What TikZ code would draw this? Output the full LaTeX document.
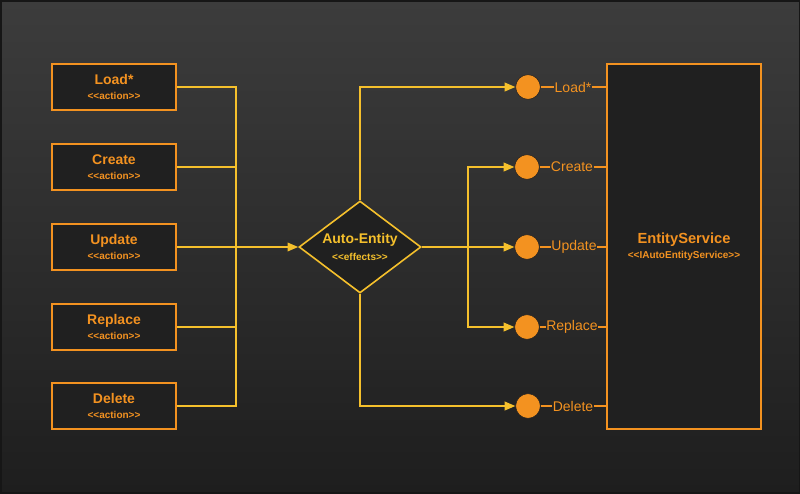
\documentclass[tikz,border=0pt]{standalone}
\usepackage{fontspec}
\setmainfont{Liberation Sans}
\usetikzlibrary{shapes.geometric,arrows.meta}

\definecolor{bgtop}{HTML}{3C3C3C}
\definecolor{bgbot}{HTML}{1E1E1E}
\definecolor{frame}{HTML}{161616}
\definecolor{boxfill}{HTML}{202020}
\definecolor{orange}{HTML}{F39220}
\definecolor{gold}{HTML}{F5C02C}

\newcommand{\stereo}[1]{<\kern0pt<#1>\kern0pt>}

\begin{document}
\begin{tikzpicture}[x=0.75pt,y=-0.75pt,
	action/.style={rectangle,draw=orange,fill=boxfill,line width=1.3pt,minimum width=93pt,minimum height=34.5pt,align=center,text=orange,inner sep=1pt,font=\bfseries\fontsize{10.5}{12}\selectfont},
	effect/.style={diamond,draw=gold,fill=boxfill,line width=1.2pt,aspect=1.33,minimum width=91.5pt,minimum height=69pt,inner sep=0pt,align=center,text=gold,font=\bfseries\fontsize{10.5}{12}\selectfont},
	service/.style={rectangle,draw=orange,fill=boxfill,line width=1.3pt,minimum width=115.5pt,minimum height=273.75pt,align=center,text=orange,font=\bfseries\fontsize{11}{12}\selectfont},
	port/.style={circle,fill=orange,draw=boxfill,line width=0.4pt,minimum size=18.5pt,inner sep=0pt},
	portlabel/.style={text=orange,inner sep=0.3pt,font=\fontsize{10.5}{12}\selectfont},
	wire/.style={draw=gold,line width=1.1pt},
	pwire/.style={draw=orange,line width=1.1pt},
	arrow/.style={-{Triangle[length=8pt,width=6.5pt]}}]

	% background
	\useasboundingbox (0,0) rectangle (800,493);
	\shade[top color=bgtop,bottom color=bgbot] (0,0) rectangle (800,493);
	\draw[frame,line width=1.5pt] (0.5,0.5) rectangle (799.5,492.5);

	% actions
	\node[action] (load) at (114,87) {Load*\\[-1pt]{\fontsize{7.5}{8}\selectfont\stereo{action}}};
	\node[action] (create) at (114,167) {Create\\[-1pt]{\fontsize{7.5}{8}\selectfont\stereo{action}}};
	\node[action] (update) at (114,247) {Update\\[-1pt]{\fontsize{7.5}{8}\selectfont\stereo{action}}};
	\node[action] (replace) at (114,327) {Replace\\[-1pt]{\fontsize{7.5}{8}\selectfont\stereo{action}}};
	\node[action] (delete) at (114,406) {Delete\\[-1pt]{\fontsize{7.5}{8}\selectfont\stereo{action}}};

	% effects
	\node[effect] (fx) at (360,247) {Auto-Entity\\[1pt]{\fontsize{7.5}{8}\selectfont\stereo{effects}}};

	% service
	\node[service] (svc) at (684,246.5) {EntityService\\[-1pt]{\fontsize{7.5}{8}\selectfont\stereo{IAutoEntityService}}};

	% ports
	\node[port] (pload) at (528,87) {};
	\node[port] (pcreate) at (527,167) {};
	\node[port] (pupdate) at (527,247) {};
	\node[port] (preplace) at (527,327) {};
	\node[port] (pdelete) at (528,406) {};
	\node[portlabel] (lload) at (573,87) {Load*};
	\node[portlabel] (lcreate) at (572,167) {Create};
	\node[portlabel] (lupdate) at (574,247) {Update};
	\node[portlabel] (lreplace) at (572,327) {Replace};
	\node[portlabel] (ldelete) at (573,406) {Delete};

	% input bus
	\coordinate (inbus) at (236,247);
	\draw[wire] (load.east) -| (inbus);
	\draw[wire] (create.east) -| (inbus);
	\draw[wire] (replace.east) -| (inbus);
	\draw[wire] (delete.east) -| (inbus);
	\draw[wire,arrow] (update.east) -- (fx.west);

	% output bus
	\coordinate (outbus) at (468,247);
	\draw[wire,arrow] (fx.north) |- (pload.west);
	\draw[wire,arrow] (fx.south) |- (pdelete.west);
	\draw[wire,arrow] (fx.east) -- (pupdate.west);
	\draw[wire,arrow] (outbus) |- (pcreate.west);
	\draw[wire,arrow] (outbus) |- (preplace.west);

	% port links
	\draw[pwire] (pload) -- (lload) (lload) -- (lload -| svc.west);
	\draw[pwire] (pcreate) -- (lcreate) (lcreate) -- (lcreate -| svc.west);
	\draw[pwire] (pupdate) -- (lupdate) (lupdate) -- (lupdate -| svc.west);
	\draw[pwire] (preplace) -- (lreplace) (lreplace) -- (lreplace -| svc.west);
	\draw[pwire] (pdelete) -- (ldelete) (ldelete) -- (ldelete -| svc.west);
\end{tikzpicture}
\end{document}
